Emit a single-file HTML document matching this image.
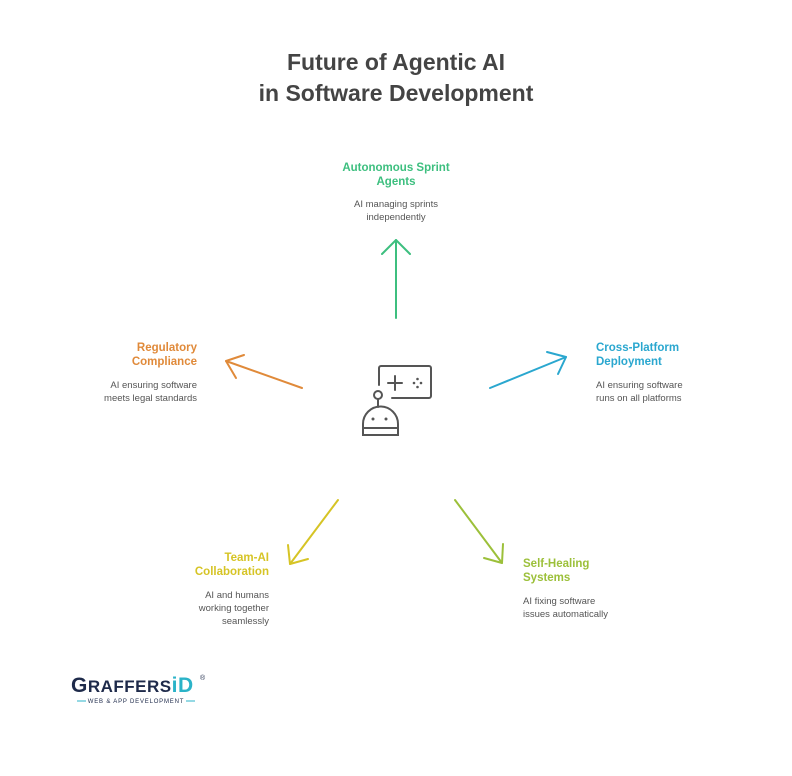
<!DOCTYPE html>
<html><head><meta charset="utf-8"><style>
html,body{margin:0;padding:0;background:#fff;}
svg{display:block;font-family:"Liberation Sans",Arial,sans-serif;}
</style></head><body>
<svg width="792" height="776" viewBox="0 0 792 776" xmlns="http://www.w3.org/2000/svg">
<rect width="792" height="776" fill="#fff"/>
<g font-size="23" font-weight="bold" fill="#444" text-anchor="middle">
<text x="396" y="70">Future of Agentic AI</text>
<text x="396" y="101">in Software Development</text>
</g>
<!-- arrows -->
<g fill="none" stroke-width="2" stroke-linecap="round" stroke-linejoin="round">
<g stroke="#3dbf7f"><line x1="396" y1="318" x2="396" y2="240"/><polyline points="382,254 396,240 410,254"/></g>
<g stroke="#2aa7cf"><line x1="490" y1="388" x2="566" y2="357"/><polyline points="547,352 566,357 558,374"/></g>
<g stroke="#e08a3a"><line x1="302" y1="388" x2="226" y2="361"/><polyline points="236,378 226,361 244,355"/></g>
<g stroke="#d6c425"><line x1="338" y1="500" x2="290" y2="564"/><polyline points="288,545 290,564 308,559"/></g>
<g stroke="#9cc03a"><line x1="455" y1="500" x2="502" y2="563"/><polyline points="484,558 502,563 503,544"/></g>
</g>
<!-- icon -->
<g fill="none" stroke="#555" stroke-width="2" stroke-linecap="round">
<path d="M379,385 V368 a2,2 0 0 1 2,-2 H429 a2,2 0 0 1 2,2 V396 a2,2 0 0 1 -2,2 H392"/>
<line x1="388" y1="383" x2="402" y2="383"/><line x1="395" y1="376" x2="395" y2="390"/>
<circle cx="378" cy="395" r="4"/><line x1="378" y1="399" x2="378" y2="407"/>
<path d="M363,435 V424 a16,16 0 0 1 35,0 V435 Z"/><line x1="363" y1="428" x2="398" y2="428"/>
</g>
<g fill="#555"><circle cx="414" cy="383" r="1.3"/><circle cx="421" cy="383" r="1.3"/><circle cx="417.5" cy="379" r="1.3"/><circle cx="417.5" cy="387" r="1.3"/>
<circle cx="373" cy="419" r="1.5"/><circle cx="386" cy="419" r="1.5"/></g>
<!-- labels -->
<g font-size="11.5" font-weight="bold">
<text fill="#3dbf7f" text-anchor="middle"><tspan x="396" y="171">Autonomous Sprint</tspan><tspan x="396" y="185">Agents</tspan></text>
<text fill="#2aa7cf"><tspan x="596" y="351">Cross-Platform</tspan><tspan x="596" y="365">Deployment</tspan></text>
<text fill="#e08a3a" text-anchor="end"><tspan x="197" y="351">Regulatory</tspan><tspan x="197" y="365">Compliance</tspan></text>
<text fill="#d6c425" text-anchor="end"><tspan x="269" y="561">Team-AI</tspan><tspan x="269" y="575">Collaboration</tspan></text>
<text fill="#9cc03a"><tspan x="523" y="567">Self-Healing</tspan><tspan x="523" y="581">Systems</tspan></text>
</g>
<g font-size="9.5" fill="#555">
<text text-anchor="middle"><tspan x="396" y="207">AI managing sprints</tspan><tspan x="396" y="220">independently</tspan></text>
<text><tspan x="596" y="388">AI ensuring software</tspan><tspan x="596" y="401">runs on all platforms</tspan></text>
<text text-anchor="end"><tspan x="197" y="388">AI ensuring software</tspan><tspan x="197" y="401">meets legal standards</tspan></text>
<text text-anchor="end"><tspan x="269" y="598">AI and humans</tspan><tspan x="269" y="611">working together</tspan><tspan x="269" y="624">seamlessly</tspan></text>
<text><tspan x="523" y="604">AI fixing software</tspan><tspan x="523" y="617">issues automatically</tspan></text>
</g>
<!-- logo -->
<text x="71" y="692" font-size="21" font-weight="bold" fill="#1e2a4a" letter-spacing="0.5">G<tspan font-size="17">RAFFERS</tspan><tspan fill="#2bb3c8" font-size="21">iD</tspan></text>
<text x="200" y="680" font-size="7" fill="#1e2a4a">®</text>
<line x1="77" y1="701" x2="86" y2="701" stroke="#2bb3c8" stroke-width="1"/>
<line x1="186" y1="701" x2="195" y2="701" stroke="#2bb3c8" stroke-width="1"/>
<text x="136" y="703" font-size="6" fill="#1e2a4a" text-anchor="middle" letter-spacing="0.8">WEB &amp; APP DEVELOPMENT</text>
</svg>
</body></html>
